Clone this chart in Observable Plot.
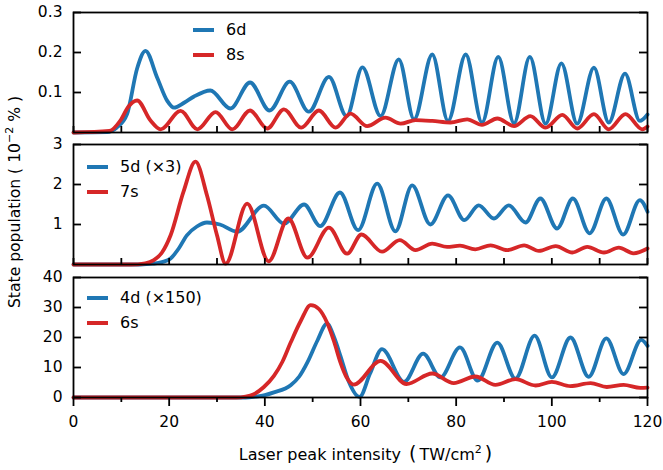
<!DOCTYPE html>
<html><head><meta charset="utf-8">
<script src="https://cdn.jsdelivr.net/npm/d3@7"></script>
<script src="https://cdn.jsdelivr.net/npm/@observablehq/plot@0.6"></script>
<style>
body{margin:0;background:#fff;}
#chart{position:relative;width:663px;height:470px;font-family:"DejaVu Sans",sans-serif;color:#000;overflow:hidden;}
.panel{position:absolute;left:0;}
.lg-line{position:absolute;width:21px;height:4px;}
.lg-text{position:absolute;font-size:16px;line-height:18px;white-space:nowrap;}
#ylab{position:absolute;left:15px;top:202px;transform:translate(-50%,-50%) rotate(-90deg);font-size:15.6px;white-space:nowrap;}
#xlab{position:absolute;left:367px;top:453px;transform:translate(-50%,-50%);font-size:16px;white-space:nowrap;}
sup{font-size:11px;vertical-align:7px;line-height:0;}
.par{font-size:19px;margin:0 3px;}
</style></head>
<body><div id="chart">
<div id="ylab">State population ( 10<sup>−2</sup> % )</div>
<div id="xlab">Laser peak intensity <span class="par">(</span>TW/cm<sup>2</sup><span class="par">)</span></div>
</div>
<script>
// ---- data ----
const xTicksMajor = [0, 20, 40, 60, 80, 100, 120];
const xTicksMinor = [10, 30, 50, 70, 90, 110];
const xTicksAll = [0, 10, 20, 30, 40, 50, 60, 70, 80, 90, 100, 110, 120];

const yTicks1 = [0.1, 0.2, 0.3];
const yTicks2 = [1, 2, 3];
const yTicks3 = [0, 10, 20, 30, 40];

// top panel: 6d and 8s
const x6d = [0, 7, 9, 11.2, 13.3, 15.05, 17.5, 19.6, 21.0, 23.2, 25.2, 28.6, 32.8, 36.9, 41.0, 45.2, 49.2, 53.4, 57.1, 60.4, 64.2, 68.0, 71.2, 75.0, 78.3, 82.0, 85.4, 88.8, 92.1, 95.4, 98.7, 102.0, 105.3, 108.8, 111.9, 115.3, 118.4, 120];
const y6d = [0, 0.001, 0.012, 0.046, 0.16, 0.204, 0.137, 0.079, 0.062, 0.075, 0.09, 0.105, 0.060, 0.125, 0.055, 0.127, 0.052, 0.139, 0.041, 0.163, 0.041, 0.183, 0.033, 0.195, 0.029, 0.195, 0.025, 0.189, 0.023, 0.189, 0.022, 0.173, 0.022, 0.162, 0.025, 0.147, 0.029, 0.045];
const x8s = [0, 7.5, 9.8, 11.5, 13.3, 16.1, 18.2, 22.4, 25.9, 29.7, 33.2, 36.9, 40.5, 44.0, 47.6, 51.3, 54.8, 57.9, 61.4, 65.2, 68.4, 71.5, 75.0, 78.8, 82.3, 85.4, 88.6, 92.1, 95.5, 98.7, 102.2, 105.3, 108.8, 111.9, 115.4, 118.9, 120];
const y8s = [0, 0.004, 0.03, 0.065, 0.080, 0.03, 0.008, 0.054, 0.008, 0.051, 0.008, 0.055, 0.010, 0.058, 0.012, 0.055, 0.012, 0.047, 0.016, 0.037, 0.022, 0.031, 0.029, 0.025, 0.033, 0.019, 0.035, 0.016, 0.041, 0.012, 0.044, 0.010, 0.046, 0.008, 0.046, 0.008, 0.015];

// middle panel: 5d (x3) and 7s
const x5d = [0, 14, 16.5, 18.5, 20.3, 22, 23.7, 25.8, 27.9, 30.6, 34.2, 39.8, 44.0, 48.2, 51.6, 55.7, 59.5, 63.5, 67.3, 70.8, 74.6, 78.3, 81.7, 84.7, 87.9, 91.0, 94.5, 97.6, 101.1, 104.4, 107.9, 111.4, 114.9, 118.4, 120];
const y5d = [0, 0, 0.02, 0.06, 0.15, 0.4, 0.73, 0.95, 1.05, 1.00, 0.82, 1.47, 1.02, 1.50, 0.96, 1.80, 0.86, 2.02, 0.83, 1.98, 1.00, 1.73, 1.11, 1.48, 1.15, 1.48, 1.05, 1.65, 0.90, 1.65, 0.78, 1.65, 0.75, 1.61, 1.32];
const x7s = [0, 12, 15, 16.8, 18.5, 20.3, 23.0, 25.5, 27.9, 30.0, 31.8, 36.3, 40.8, 44.9, 48.9, 53.4, 57.2, 60.2, 64.5, 68.2, 71.5, 75.0, 78.1, 80.8, 84.0, 87.2, 90.7, 94.2, 97.3, 100.8, 104.3, 107.4, 110.9, 114.0, 117.1, 120];
const y7s = [0, 0, 0.03, 0.11, 0.3, 0.73, 1.82, 2.57, 1.73, 0.73, 0.02, 1.52, 0.08, 1.15, 0.17, 0.92, 0.27, 0.75, 0.32, 0.61, 0.36, 0.52, 0.44, 0.47, 0.38, 0.48, 0.36, 0.48, 0.34, 0.46, 0.30, 0.44, 0.30, 0.42, 0.28, 0.40];

// bottom panel: 4d (x150) and 6s
const x4d = [0, 36, 38, 40, 41.9, 45.4, 47.2, 48.9, 51.0, 53.0, 54.5, 55.8, 57.5, 59.8, 62.0, 64.5, 69.1, 73.1, 76.7, 80.8, 84.5, 88.6, 92.4, 96.4, 100.0, 103.9, 107.7, 111.4, 115.0, 118.7, 120];
const y4d = [0, 0, 0.3, 0.8, 1.7, 4.1, 7, 11.7, 19, 24.6, 20, 13.9, 5.5, 0.2, 8, 16.1, 5.2, 14.6, 6.7, 16.7, 5.6, 18.3, 6.3, 20.6, 6.7, 20.0, 6.9, 19.7, 7.8, 19.2, 17.2];
const x6s = [0, 34, 36, 37.7, 39.8, 41.9, 43.7, 45.4, 47.5, 49.6, 51.3, 53.0, 54.5, 55.8, 57.0, 58.6, 64.2, 69.6, 75.0, 79.5, 84.0, 88.2, 92.4, 96.6, 100.0, 103.9, 108.1, 111.5, 115.0, 118.5, 120];
const y6s = [0, 0, 0.3, 1.1, 3.5, 7.2, 12, 18.3, 25.5, 30.8, 29.5, 25, 18.5, 11.7, 7, 4.3, 12.2, 4.5, 8.0, 4.8, 7.0, 4.2, 6.1, 4.0, 5.2, 3.8, 4.8, 3.5, 4.2, 3.2, 3.3];

const BLUE = "#1f77b4", RED = "#d62728";

// ---- drawing ----
const chart = document.getElementById("chart");
const W = 663, ML = 73, MR = 16;
const PW = W - ML - MR;

function toRows(xs, ys) { return xs.map((x, i) => ({x, y: ys[i]})); }

function panel({top, height, mt, mb, yDomain, yTicks, series, legend, bottom}) {
  const ph = height - mt - mb;
  const marks = [];
  for (const s of series) {
    marks.push(Plot.line(toRows(s.xs, s.ys), {x: "x", y: "y", stroke: s.color, strokeWidth: 3.8, curve: "monotone-x"}));
  }
  marks.push(Plot.axisY(yTicks, {tickSize: 0, tickPadding: 11, label: null, fill: "black"}));
  marks.push(Plot.tickY(yTicks, {y: d => d, insetRight: PW - 8, stroke: "black", strokeWidth: 1.8}));
  marks.push(Plot.tickY(yTicks, {y: d => d, insetLeft: PW - 8, stroke: "black", strokeWidth: 1.8}));
  if (bottom) {
    marks.push(Plot.axisX(xTicksMajor, {tickSize: 9, tickPadding: 9, label: null, strokeWidth: 1.8, fill: "black"}));
    marks.push(Plot.axisX(xTicksMinor, {tickSize: 5, text: null, label: null, strokeWidth: 1.8}));
  } else {
    marks.push(Plot.tickX(xTicksAll, {x: d => d, insetTop: ph - 6, stroke: "black", strokeWidth: 1.8}));
  }
  marks.push(Plot.frame({stroke: "black", strokeWidth: 1.8}));
  const svg = Plot.plot({
    width: W, height,
    marginLeft: ML, marginRight: MR, marginTop: mt, marginBottom: mb,
    x: {domain: [0, 120], axis: bottom ? undefined : null},
    y: {domain: yDomain},
    style: {fontFamily: "DejaVu Sans", fontSize: "15.5px", background: "transparent", overflow: "visible", color: "black"},
    marks
  });
  svg.classList.add("panel");
  svg.style.top = top + "px";
  svg.style.maxWidth = "none";
  chart.appendChild(svg);

  for (const item of legend) {
    const ln = document.createElement("div");
    ln.className = "lg-line";
    ln.style.left = item.lx + "px";
    ln.style.top = (item.ly - 2) + "px";
    ln.style.background = item.color;
    chart.appendChild(ln);
    const tx = document.createElement("div");
    tx.className = "lg-text";
    tx.style.left = item.tx + "px";
    tx.style.top = (item.ly - 9) + "px";
    tx.textContent = item.label;
    chart.appendChild(tx);
  }
}

panel({
  top: 0, height: 134, mt: 12, mb: 2, yDomain: [0, 0.3], yTicks: yTicks1,
  series: [{xs: x6d, ys: y6d, color: BLUE}, {xs: x8s, ys: y8s, color: RED}],
  legend: [
    {label: "6d", color: BLUE, lx: 193, tx: 226, ly: 30},
    {label: "8s", color: RED, lx: 193, tx: 226, ly: 55}
  ]
});
panel({
  top: 132, height: 134, mt: 12, mb: 2, yDomain: [0, 3], yTicks: yTicks2,
  series: [{xs: x5d, ys: y5d, color: BLUE}, {xs: x7s, ys: y7s, color: RED}],
  legend: [
    {label: "5d (×3)", color: BLUE, lx: 87, tx: 120, ly: 167},
    {label: "7s", color: RED, lx: 87, tx: 120, ly: 192}
  ]
});
panel({
  top: 265, height: 205, mt: 12, mb: 73, yDomain: [0, 40], yTicks: yTicks3, bottom: true,
  series: [{xs: x4d, ys: y4d, color: BLUE}, {xs: x6s, ys: y6s, color: RED}],
  legend: [
    {label: "4d (×150)", color: BLUE, lx: 87, tx: 120, ly: 298},
    {label: "6s", color: RED, lx: 87, tx: 120, ly: 323}
  ]
});
</script>
</body></html>
